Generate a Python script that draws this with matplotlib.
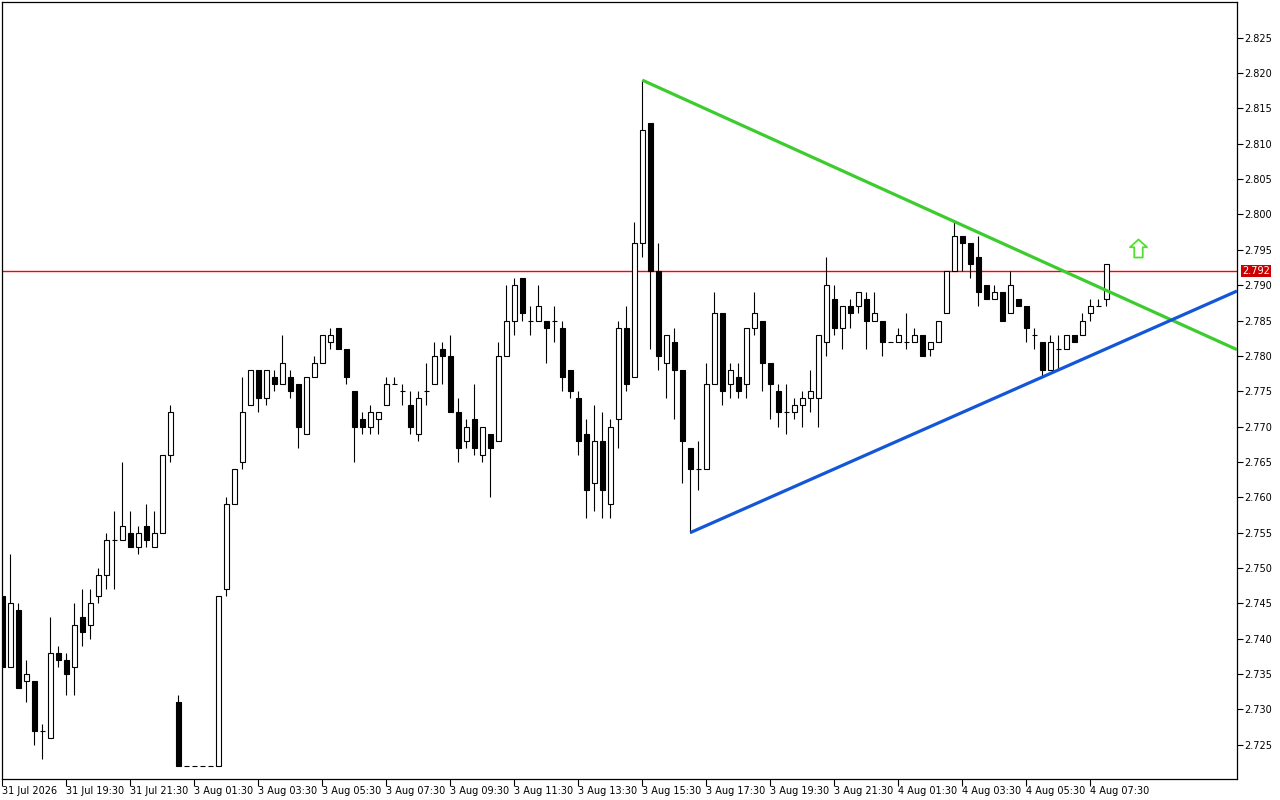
"""Candlestick chart with a symmetrical triangle breakout (MT-style)."""

import matplotlib

matplotlib.use("Agg")

import matplotlib.pyplot as plt
import numpy as np
from matplotlib.path import Path

# 15-minute candles, oldest first (open, high, low, close)
opens = [
    2.746, 2.736, 2.744, 2.734, 2.734, 2.727, 2.726, 2.738, 2.737, 2.736,
    2.743, 2.742, 2.746, 2.749, 2.754, 2.754, 2.755, 2.753, 2.756, 2.753,
    2.755, 2.766, 2.731, 2.722, 2.722, 2.722, 2.722, 2.722, 2.747, 2.759,
    2.765, 2.773, 2.778, 2.774, 2.777, 2.776, 2.777, 2.776, 2.769, 2.777,
    2.779, 2.782, 2.784, 2.781, 2.775, 2.771, 2.770, 2.771, 2.773, 2.776,
    2.775, 2.773, 2.769, 2.775, 2.776, 2.781, 2.780, 2.772, 2.768, 2.771,
    2.766, 2.769, 2.768, 2.780, 2.785, 2.791, 2.785, 2.785, 2.785, 2.785,
    2.784, 2.778, 2.774, 2.769, 2.762, 2.768, 2.759, 2.771, 2.784, 2.777,
    2.796, 2.813, 2.792, 2.779, 2.782, 2.778, 2.767, 2.764, 2.764, 2.776,
    2.786, 2.776, 2.777, 2.776, 2.784, 2.785, 2.779, 2.775, 2.772, 2.772,
    2.773, 2.774, 2.774, 2.782, 2.788, 2.784, 2.787, 2.787, 2.788, 2.785,
    2.785, 2.782, 2.782, 2.782, 2.782, 2.783, 2.781, 2.782, 2.786, 2.792,
    2.797, 2.796, 2.794, 2.790, 2.788, 2.789, 2.786, 2.788, 2.787, 2.783,
    2.782, 2.778, 2.781, 2.781, 2.783, 2.783, 2.786, 2.787, 2.788,
]
highs = [
    2.746, 2.752, 2.745, 2.737, 2.734, 2.728, 2.743, 2.739, 2.738, 2.745,
    2.747, 2.747, 2.750, 2.755, 2.758, 2.765, 2.758, 2.756, 2.759, 2.758,
    2.766, 2.773, 2.732, 2.722, 2.722, 2.722, 2.722, 2.746, 2.760, 2.764,
    2.777, 2.778, 2.778, 2.778, 2.778, 2.783, 2.778, 2.776, 2.777, 2.780,
    2.783, 2.784, 2.784, 2.781, 2.775, 2.772, 2.773, 2.772, 2.777, 2.777,
    2.776, 2.775, 2.775, 2.779, 2.782, 2.782, 2.783, 2.774, 2.771, 2.776,
    2.770, 2.769, 2.782, 2.790, 2.791, 2.791, 2.787, 2.790, 2.785, 2.787,
    2.785, 2.778, 2.775, 2.771, 2.773, 2.772, 2.771, 2.785, 2.787, 2.799,
    2.819, 2.813, 2.796, 2.783, 2.784, 2.778, 2.767, 2.768, 2.779, 2.789,
    2.786, 2.779, 2.779, 2.784, 2.789, 2.785, 2.779, 2.776, 2.776, 2.774,
    2.775, 2.778, 2.783, 2.794, 2.790, 2.787, 2.788, 2.789, 2.789, 2.789,
    2.785, 2.782, 2.784, 2.786, 2.784, 2.783, 2.782, 2.785, 2.792, 2.799,
    2.797, 2.796, 2.797, 2.790, 2.790, 2.789, 2.792, 2.788, 2.787, 2.784,
    2.782, 2.783, 2.783, 2.783, 2.783, 2.786, 2.788, 2.788, 2.793,
]
lows = [
    2.736, 2.736, 2.733, 2.731, 2.725, 2.723, 2.726, 2.736, 2.732, 2.732,
    2.739, 2.740, 2.745, 2.747, 2.747, 2.754, 2.753, 2.752, 2.753, 2.753,
    2.755, 2.765, 2.722, 2.722, 2.722, 2.722, 2.722, 2.722, 2.746, 2.759,
    2.764, 2.773, 2.772, 2.773, 2.775, 2.776, 2.774, 2.767, 2.769, 2.777,
    2.779, 2.781, 2.781, 2.776, 2.765, 2.769, 2.769, 2.769, 2.773, 2.776,
    2.773, 2.769, 2.768, 2.773, 2.776, 2.776, 2.772, 2.765, 2.767, 2.766,
    2.765, 2.760, 2.768, 2.780, 2.783, 2.785, 2.783, 2.785, 2.779, 2.782,
    2.775, 2.774, 2.766, 2.757, 2.758, 2.757, 2.757, 2.767, 2.775, 2.777,
    2.794, 2.781, 2.778, 2.774, 2.771, 2.762, 2.755, 2.761, 2.764, 2.776,
    2.773, 2.774, 2.774, 2.774, 2.783, 2.775, 2.771, 2.770, 2.769, 2.771,
    2.770, 2.772, 2.770, 2.780, 2.783, 2.781, 2.784, 2.786, 2.781, 2.785,
    2.780, 2.782, 2.782, 2.781, 2.782, 2.780, 2.780, 2.782, 2.786, 2.792,
    2.792, 2.791, 2.787, 2.788, 2.788, 2.785, 2.786, 2.787, 2.782, 2.781,
    2.777, 2.778, 2.778, 2.781, 2.782, 2.783, 2.785, 2.787, 2.787,
]
closes = [
    2.736, 2.745, 2.733, 2.735, 2.727, 2.727, 2.738, 2.737, 2.735, 2.742,
    2.741, 2.745, 2.749, 2.754, 2.754, 2.756, 2.753, 2.755, 2.754, 2.755,
    2.766, 2.772, 2.722, 2.722, 2.722, 2.722, 2.722, 2.746, 2.759, 2.764,
    2.772, 2.778, 2.774, 2.778, 2.776, 2.779, 2.775, 2.770, 2.777, 2.779,
    2.783, 2.783, 2.781, 2.777, 2.770, 2.770, 2.772, 2.772, 2.776, 2.776,
    2.775, 2.770, 2.774, 2.775, 2.780, 2.780, 2.772, 2.767, 2.770, 2.767,
    2.770, 2.767, 2.780, 2.785, 2.790, 2.786, 2.785, 2.787, 2.784, 2.785,
    2.777, 2.775, 2.768, 2.761, 2.768, 2.761, 2.770, 2.784, 2.776, 2.796,
    2.812, 2.792, 2.780, 2.783, 2.778, 2.768, 2.764, 2.764, 2.776, 2.786,
    2.775, 2.778, 2.775, 2.784, 2.786, 2.779, 2.776, 2.772, 2.772, 2.773,
    2.774, 2.775, 2.783, 2.790, 2.784, 2.787, 2.786, 2.789, 2.785, 2.786,
    2.782, 2.782, 2.783, 2.782, 2.783, 2.780, 2.782, 2.785, 2.792, 2.797,
    2.796, 2.793, 2.789, 2.788, 2.789, 2.785, 2.790, 2.787, 2.784, 2.783,
    2.778, 2.782, 2.781, 2.783, 2.782, 2.785, 2.787, 2.787, 2.793,
]

time_labels = [
    "31 Jul 2026", "31 Jul 19:30", "31 Jul 21:30", "3 Aug 01:30",
    "3 Aug 03:30", "3 Aug 05:30", "3 Aug 07:30", "3 Aug 09:30",
    "3 Aug 11:30", "3 Aug 13:30", "3 Aug 15:30", "3 Aug 17:30",
    "3 Aug 19:30", "3 Aug 21:30", "4 Aug 01:30", "4 Aug 03:30",
    "4 Aug 05:30", "4 Aug 07:30",
]
label_every = 8  # one time label per 8 bars

bid_price = 2.792
# trendlines: two anchor points each (bar index, price), extended to the right
upper_line = [(80, 2.819), (119, 2.799)]
lower_line = [(86, 2.755), (130, 2.777)]
arrow_bar, arrow_price = 142, 2.7953

price_ticks = np.arange(2.725, 2.8251, 0.005)

o = np.array(opens)
h = np.array(highs)
l = np.array(lows)
c = np.array(closes)
x = np.arange(len(o))

fig = plt.figure(figsize=(12.8, 8), dpi=100)
ax = fig.add_axes([2 / 1280, 21 / 800, 1235 / 1280, 777 / 800])
x_max = 154.34
ax.set_xlim(-0.04, x_max)
ax.set_ylim(2.72015, 2.83005)

# wicks, then bodies on top
ax.vlines(x, l, h, color="black", linewidth=0.8, zorder=2)
body_w = 0.58
up = c > o
down = c < o
flat = c == o
ax.bar(x[up], (c - o)[up], bottom=o[up], width=body_w, facecolor="white",
       edgecolor="black", linewidth=0.8, zorder=3)
ax.bar(x[down], (o - c)[down], bottom=c[down], width=body_w, facecolor="black",
       edgecolor="black", linewidth=0.8, zorder=3)
ax.hlines(c[flat], x[flat] - body_w / 2, x[flat] + body_w / 2, color="black",
          linewidth=0.8, zorder=3)

# bid line
ax.axhline(bid_price, color="#ff0000", linewidth=1.0, zorder=1)

# trendlines as rays
for pts, color in ((upper_line, "#3ccc2e"), (lower_line, "#1456d8")):
    (x0, y0), (x1, y1) = pts
    slope = (y1 - y0) / (x1 - x0)
    ax.plot([x0, x_max], [y0, y0 + slope * (x_max - x0)], color=color,
            linewidth=2.3, solid_capstyle="butt", zorder=4)

# hollow up arrow
arrow_path = Path([
    (0, 0.5), (0.47, 0.07), (0.235, 0.07), (0.235, -0.5),
    (-0.235, -0.5), (-0.235, 0.07), (-0.47, 0.07), (0, 0.5),
], closed=True)
ax.plot([arrow_bar], [arrow_price], marker=arrow_path, markersize=13,
        markerfacecolor="none", markeredgecolor="#55dd33",
        markeredgewidth=1.3, linestyle="none", zorder=5)

# axes styling
for spine in ax.spines.values():
    spine.set_linewidth(0.9)
    spine.set_color("black")

ax.set_xticks(x[::label_every][: len(time_labels)])
ax.set_xticklabels(time_labels, fontsize=7, ha="left")
ax.tick_params(axis="x", direction="out", length=5, width=0.8, pad=0)

ax.yaxis.tick_right()
ax.set_yticks(price_ticks)
ax.set_yticklabels([f"{p:.3f}" for p in price_ticks], fontsize=7)
ax.tick_params(axis="y", direction="out", length=4, width=0.8, pad=1)

ax.annotate(
    f"{bid_price:.3f}",
    xy=(1, bid_price),
    xycoords=ax.get_yaxis_transform(),
    xytext=(5, 0),
    textcoords="offset pixels",
    ha="left",
    va="center",
    fontsize=7,
    color="white",
    bbox=dict(boxstyle="square,pad=0.15", facecolor="#cc0000", edgecolor="none"),
    annotation_clip=False,
    zorder=6,
)

fig.savefig("out.png", dpi=100)
